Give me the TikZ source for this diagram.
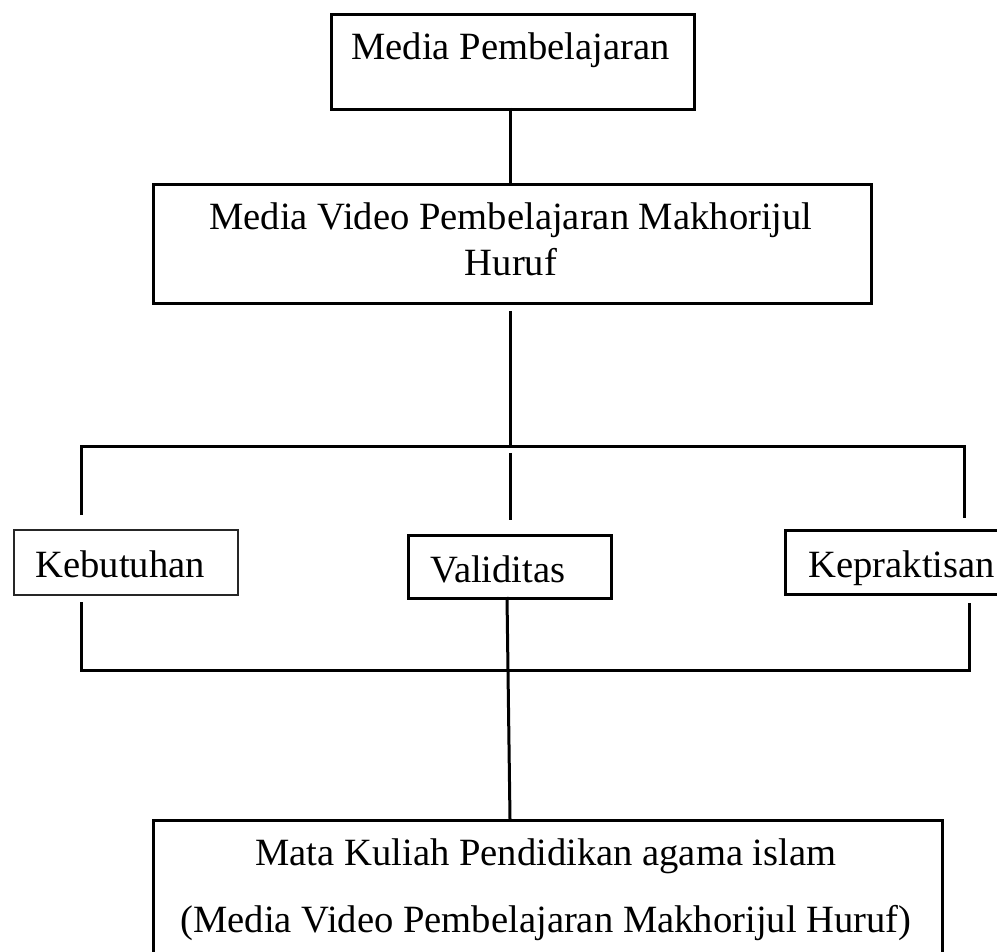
\documentclass[tikz,border=0pt]{standalone}
\usepackage{fontspec}
\setmainfont{Liberation Serif}
\begin{document}
\begin{tikzpicture}[x=0.5pt,y=-0.5pt,
  box/.style={draw=black, line width=1.5pt, inner sep=0pt, anchor=north west},
  thinbox/.style={draw=black!85, line width=0.75pt, inner sep=0pt, anchor=north west},
  txt/.style={inner sep=0pt, font=\fontsize{19.3}{23}\selectfont},
  conn/.style={line width=1.5pt, line cap=butt, line join=miter}]
\useasboundingbox (0,0) rectangle (997,952);
\clip (0,0) rectangle (997,952);
% boxes
\node[box, minimum width=181.5pt, minimum height=47.5pt] (top) at (330,13) {};
\node[box, minimum width=359pt, minimum height=59.5pt] (second) at (152,183) {};
\node[thinbox, minimum width=112pt, minimum height=32.5pt] (keb) at (13,529) {};
\node[box, minimum width=101.5pt, minimum height=31.5pt] (val) at (407,534) {};
\node[box, minimum width=112pt, minimum height=32pt] (kep) at (784,529) {};
\node[box, minimum width=394.5pt, minimum height=85.5pt] (bot) at (152,819) {};
% texts
\node[txt, anchor=base west] (ttop) at (351,60) {Media Pembelajaran};
\node[txt, anchor=base] (tsec1) at (511,230) {Media Video Pembelajaran Makhorijul};
\node[txt, anchor=base] (tsec2) at (511,276) {Huruf};
\node[txt, anchor=base west] (tkeb) at (35,577) {Kebutuhan};
\node[txt, anchor=base west] (tval) at (430,582) {Validitas};
\node[txt, anchor=base west] (tkep) at (808,577) {Kepraktisan};
\node[txt, anchor=base] (tbot1) at (546,865) {Mata Kuliah Pendidikan agama islam};
\node[txt, anchor=base] (tbot2) at (546,932) {(Media Video Pembelajaran Makhorijul Huruf)};
% coordinates for connectors
\coordinate (c1a) at (510,108);
\coordinate (c1b) at (510,183);
\coordinate (c2a) at (510,311);
\coordinate (c2b) at (510,447);
\coordinate (ul) at (81,447);
\coordinate (ur) at (964,447);
\coordinate (ulb) at (81,515);
\coordinate (urb) at (964,518);
\coordinate (um1) at (510,453);
\coordinate (um2) at (510,520);
\coordinate (ll) at (81,670);
\coordinate (lr) at (969,670);
\coordinate (llt) at (81,602);
\coordinate (lrt) at (969,603);
\coordinate (v1) at (507,597);
\coordinate (v2) at (510,819);
% connectors
\draw[conn] (c1a) -- (c1b);
\draw[conn] (c2a) -- (c2b);
\draw[conn] (ulb) -- (ul) -- (ur) -- (urb);
\draw[conn] (um1) -- (um2);
\draw[conn] (llt) -- (ll) -- (lr) -- (lrt);
\draw[conn] (v1) -- (v2);
\end{tikzpicture}
\end{document}
